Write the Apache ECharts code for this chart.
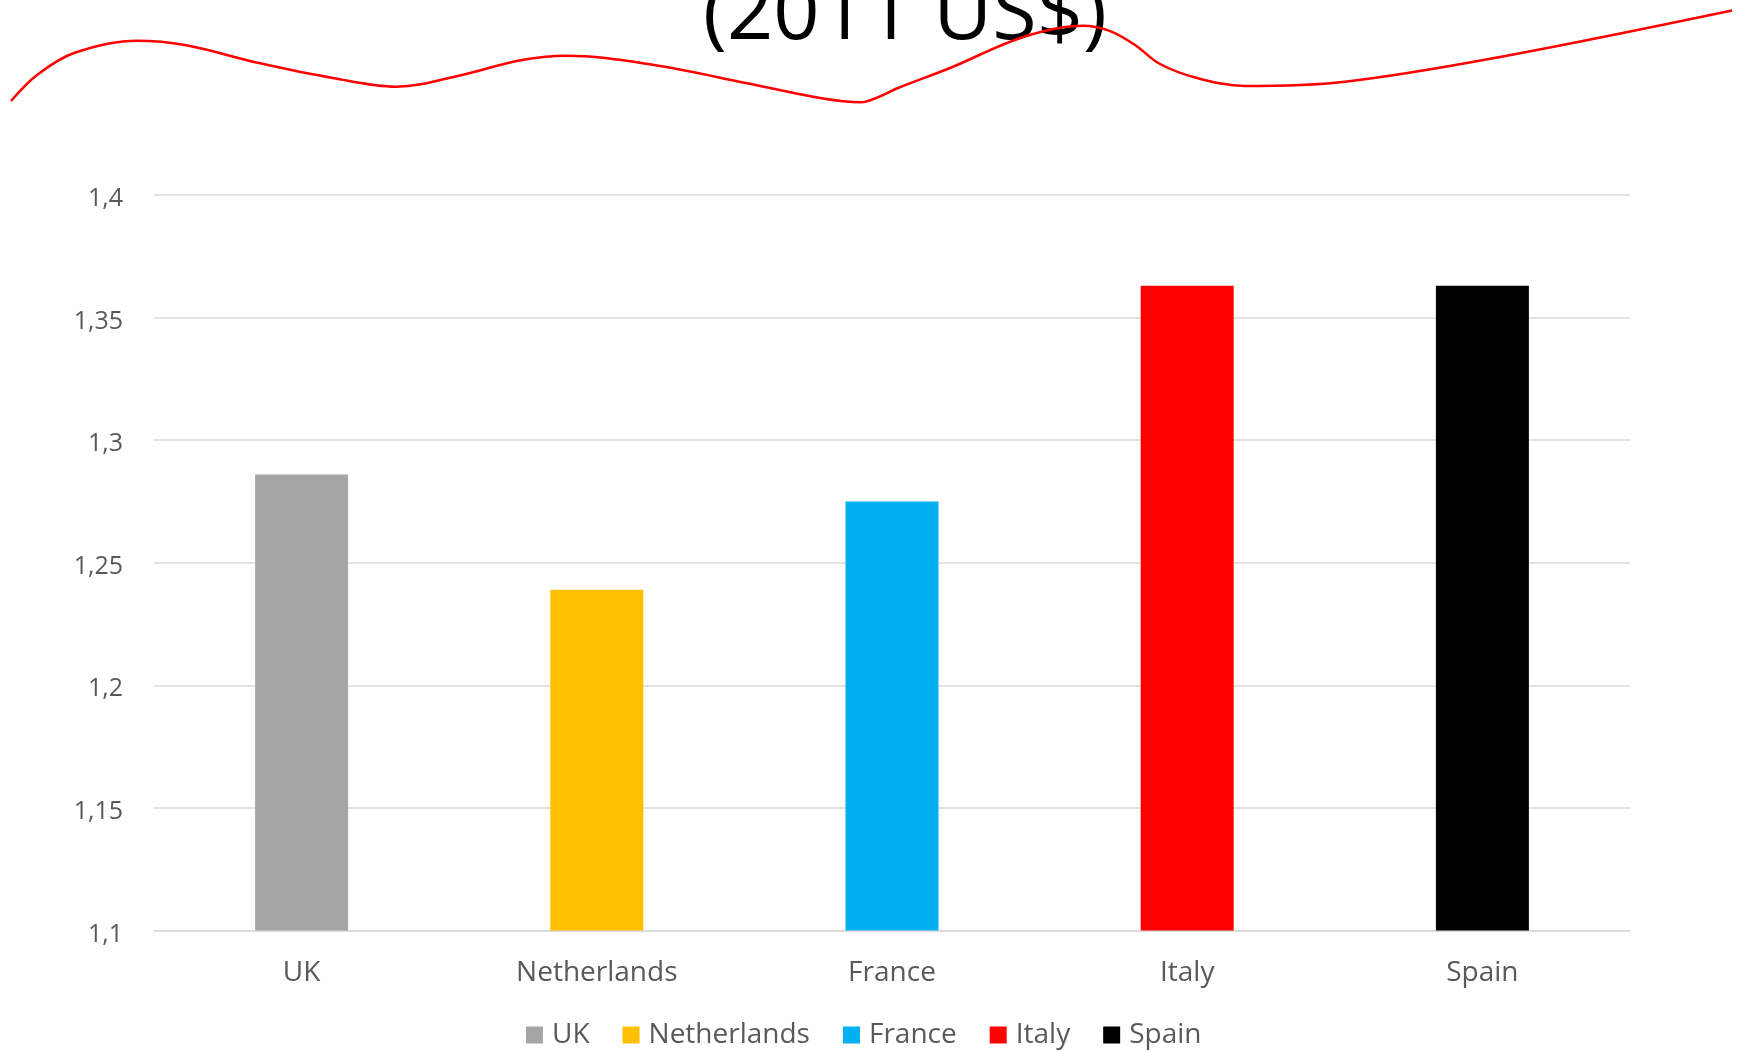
<!DOCTYPE html>
<html>
<head>
<meta charset="utf-8">
<script src="https://cdn.jsdelivr.net/npm/echarts@6/dist/echarts.min.js"></script>
<style>
  html, body { margin: 0; padding: 0; background: #ffffff; }
  #chart { width: 1745px; height: 1051px; }
</style>
</head>
<body>
<div id="chart"></div>
<script>
// ---- data ----
const categories = ['UK', 'Netherlands', 'France', 'Italy', 'Spain'];
const values = [1.286, 1.239, 1.275, 1.363, 1.363];
const barColors = ['#a5a5a5', '#ffc000', '#00b0f0', '#ff0000', '#000000'];
const yTicks = { min: 1.1, max: 1.4, interval: 0.05 };
const titleText = '(2011 US$)';
// decorative red hand-drawn stroke across the top (pixel-space coordinates)
const redLineX = [11, 37, 74, 137, 185, 259, 333, 396, 462, 518, 566, 654, 746, 820, 861, 876, 898, 950, 1024, 1083, 1109, 1135, 1160, 1197, 1245, 1345, 1493, 1732];
const redLineY = [101, 75, 53, 40.7, 45, 63, 78, 86.7, 75, 60.7, 55.7, 65, 83, 98, 102.3, 98, 88, 68, 36.7, 25.7, 30.7, 45, 64, 78, 86, 81.7, 58.3, 10.5];

const chart = echarts.init(document.getElementById('chart'), null, { renderer: 'canvas' });
const FONT = 'Open Sans';

const barSeries = categories.map((name, i) => ({
  name: name,
  type: 'bar',
  stack: 'all',
  barWidth: '31.5%',
  itemStyle: { color: barColors[i] },
  data: categories.map((c, j) => (j === i ? values[i] : '-')),
  xAxisIndex: 0,
  yAxisIndex: 0
}));

const option = {
  backgroundColor: '#ffffff',
  animation: false,
  textStyle: { fontFamily: FONT },
  title: {
    text: titleText,
    left: 703,
    top: -25,
    padding: 0,
    textStyle: { fontFamily: FONT, fontSize: 81, fontWeight: 'normal', color: '#000000' }
  },
  legend: {
    data: categories,
    icon: 'rect',
    itemWidth: 17,
    itemHeight: 17,
    itemGap: 33,
    left: 521,
    top: 1016,
    textStyle: { fontFamily: FONT, fontSize: 28, color: '#595959', padding: [0, 0, 0, 4] }
  },
  grid: [
    { left: 154, right: 115, top: 195, bottom: 120.5, containLabel: false },
    { left: 0, right: 0, top: 0, bottom: 0, containLabel: false }
  ],
  xAxis: [
    {
      type: 'category',
      gridIndex: 0,
      data: categories,
      axisLine: { show: true, lineStyle: { color: '#d9d9d9', width: 1.5 } },
      axisTick: { show: false },
      axisLabel: { fontFamily: FONT, fontSize: 28, color: '#595959', margin: 29 }
    },
    { type: 'value', gridIndex: 1, min: 0, max: 1745, show: false }
  ],
  yAxis: [
    {
      type: 'value',
      gridIndex: 0,
      min: yTicks.min,
      max: yTicks.max,
      interval: yTicks.interval,
      axisLine: { show: false },
      axisTick: { show: false },
      splitLine: { show: true, lineStyle: { color: '#d9d9d9', width: 1.5 } },
      axisLabel: {
        fontFamily: FONT, fontSize: 25, color: '#595959', margin: 31,
        verticalAlign: 'top',
        lineHeight: 8,
        formatter: v => String(Math.round(v * 100) / 100).replace('.', ',')
      }
    },
    { type: 'value', gridIndex: 1, min: 0, max: 1051, inverse: true, show: false }
  ],
  series: barSeries.concat([{
    name: 'stroke',
    type: 'line',
    xAxisIndex: 1,
    yAxisIndex: 1,
    smooth: 0.35,
    symbol: 'none',
    silent: true,
    z: 10,
    lineStyle: { color: '#ff0000', width: 2.5 },
    data: redLineX.map((x, i) => [x, redLineY[i]])
  }])
};

chart.setOption(option);
</script>
</body>
</html>
